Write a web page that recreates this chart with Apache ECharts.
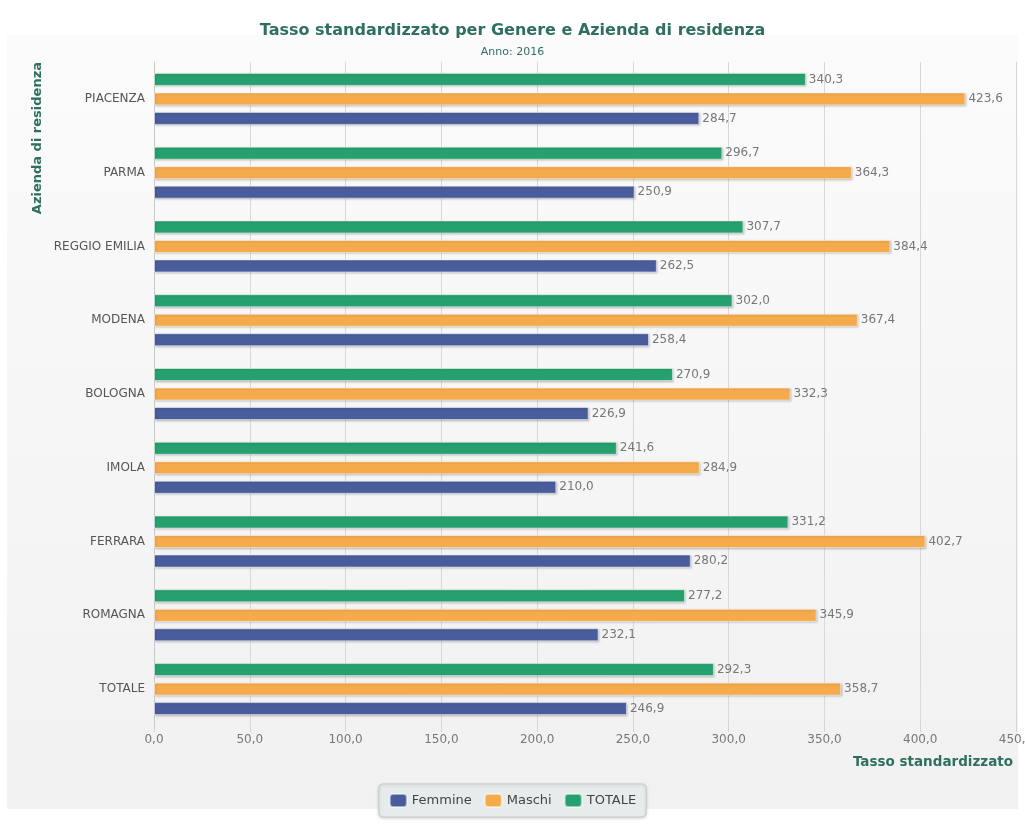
<!DOCTYPE html>
<html>
<head>
<meta charset="utf-8">
<script src="https://cdn.jsdelivr.net/npm/echarts@6/dist/echarts.min.js"></script>
<style>
html,body{margin:0;padding:0;background:#fff;}
#chart{width:1025px;height:834px;}
</style>
</head>
<body>
<div id="chart"></div>
<script>
var aziende = ['PIACENZA', 'PARMA', 'REGGIO EMILIA', 'MODENA', 'BOLOGNA', 'IMOLA', 'FERRARA', 'ROMAGNA', 'TOTALE'];
var femmine = [284.7, 250.9, 262.5, 258.4, 226.9, 210.0, 280.2, 232.1, 246.9];
var maschi = [423.6, 364.3, 384.4, 367.4, 332.3, 284.9, 402.7, 345.9, 358.7];
var totale = [340.3, 296.7, 307.7, 302.0, 270.9, 241.6, 331.2, 277.2, 292.3];
var xTicks = [0, 50, 100, 150, 200, 250, 300, 350, 400, 450];

var teal = '#2f6f60';
var font = 'DejaVu Sans';

function virgola(v) {
    return Number(v).toFixed(1).replace('.', ',');
}

function serie(nome, dati, colore) {
    return {
        name: nome,
        type: 'bar',
        data: dati,
        barWidth: 13,
        barGap: '50%',
        itemStyle: {
            color: colore,
            borderColor: 'rgba(255,255,255,0.5)',
            borderWidth: 1,
            shadowColor: 'rgba(0,0,0,0.22)',
            shadowBlur: 2,
            shadowOffsetX: 1,
            shadowOffsetY: 1
        },
        label: {
            show: true,
            position: 'right',
            distance: 3,
            color: '#777',
            fontFamily: font,
            fontSize: 12,
            formatter: function (p) { return virgola(p.value); }
        }
    };
}

var chart = echarts.init(document.getElementById('chart'));
chart.setOption({
    backgroundColor: '#fff',
    animation: false,
    color: ['#26a06e', '#f5aa4c', '#495c9c'],
    graphic: [{
        type: 'rect',
        z: -10,
        silent: true,
        shape: {x: 7, y: 35, width: 1011, height: 774},
        style: {
            fill: new echarts.graphic.LinearGradient(0, 0, 0, 1, [
                {offset: 0, color: '#fbfbfb'},
                {offset: 1, color: '#f1f1f1'}
            ])
        }
    }],
    title: {
        text: 'Tasso standardizzato per Genere e Azienda di residenza',
        subtext: 'Anno: 2016',
        left: 'center',
        top: 18,
        itemGap: 8,
        textStyle: {color: teal, fontFamily: font, fontSize: 16, fontWeight: 'bold'},
        subtextStyle: {color: teal, fontFamily: font, fontSize: 11}
    },
    legend: {
        data: ['Femmine', 'Maschi', 'TOTALE'],
        bottom: 17,
        left: 'center',
        itemWidth: 17,
        itemHeight: 13,
        itemGap: 12,
        padding: [9, 10, 9, 10],
        borderColor: '#c8cccc',
        borderWidth: 1,
        borderRadius: 4,
        backgroundColor: '#e6ecec',
        shadowColor: 'rgba(0,0,0,0.15)',
        shadowBlur: 3,
        shadowOffsetY: 1,
        itemStyle: {borderRadius: 3},
        textStyle: {color: '#444', fontFamily: font, fontSize: 13}
    },
    grid: {left: 154, right: 9, top: 62, bottom: 108, containLabel: false, outerBoundsMode: 'none'},
    xAxis: {
        type: 'value',
        min: 0,
        max: 450,
        interval: 50,
        name: 'Tasso standardizzato',
        nameLocation: 'end',
        nameGap: -3,
        nameTextStyle: {
            color: teal, fontFamily: font, fontSize: 13.5, fontWeight: 'bold',
            align: 'right', verticalAlign: 'top', padding: [29, 0, 0, 0]
        },
        axisLine: {show: false},
        axisTick: {show: true, length: 6, lineStyle: {color: '#d4d4d4'}},
        splitLine: {lineStyle: {color: '#d8d8d8'}},
        axisLabel: {
            color: '#777', fontFamily: font, fontSize: 12, margin: 8,
            formatter: function (v) { return xTicks.indexOf(v) >= 0 ? virgola(v) : ''; }
        }
    },
    yAxis: {
        type: 'category',
        data: aziende,
        inverse: true,
        name: 'Azienda di residenza',
        nameLocation: 'start',
        nameRotate: 90,
        nameGap: 0,
        nameTextStyle: {
            color: teal, fontFamily: font, fontSize: 13, fontWeight: 'bold',
            align: 'right', verticalAlign: 'bottom', padding: [0, 0, 110, 0]
        },
        axisLine: {show: true, lineStyle: {color: '#c8c8c8'}},
        axisTick: {show: false},
        axisLabel: {color: '#555', fontFamily: font, fontSize: 12, margin: 9}
    },
    series: [
        serie('TOTALE', totale, '#26a06e'),
        serie('Maschi', maschi, '#f5aa4c'),
        serie('Femmine', femmine, '#495c9c')
    ]
});
</script>
</body>
</html>
